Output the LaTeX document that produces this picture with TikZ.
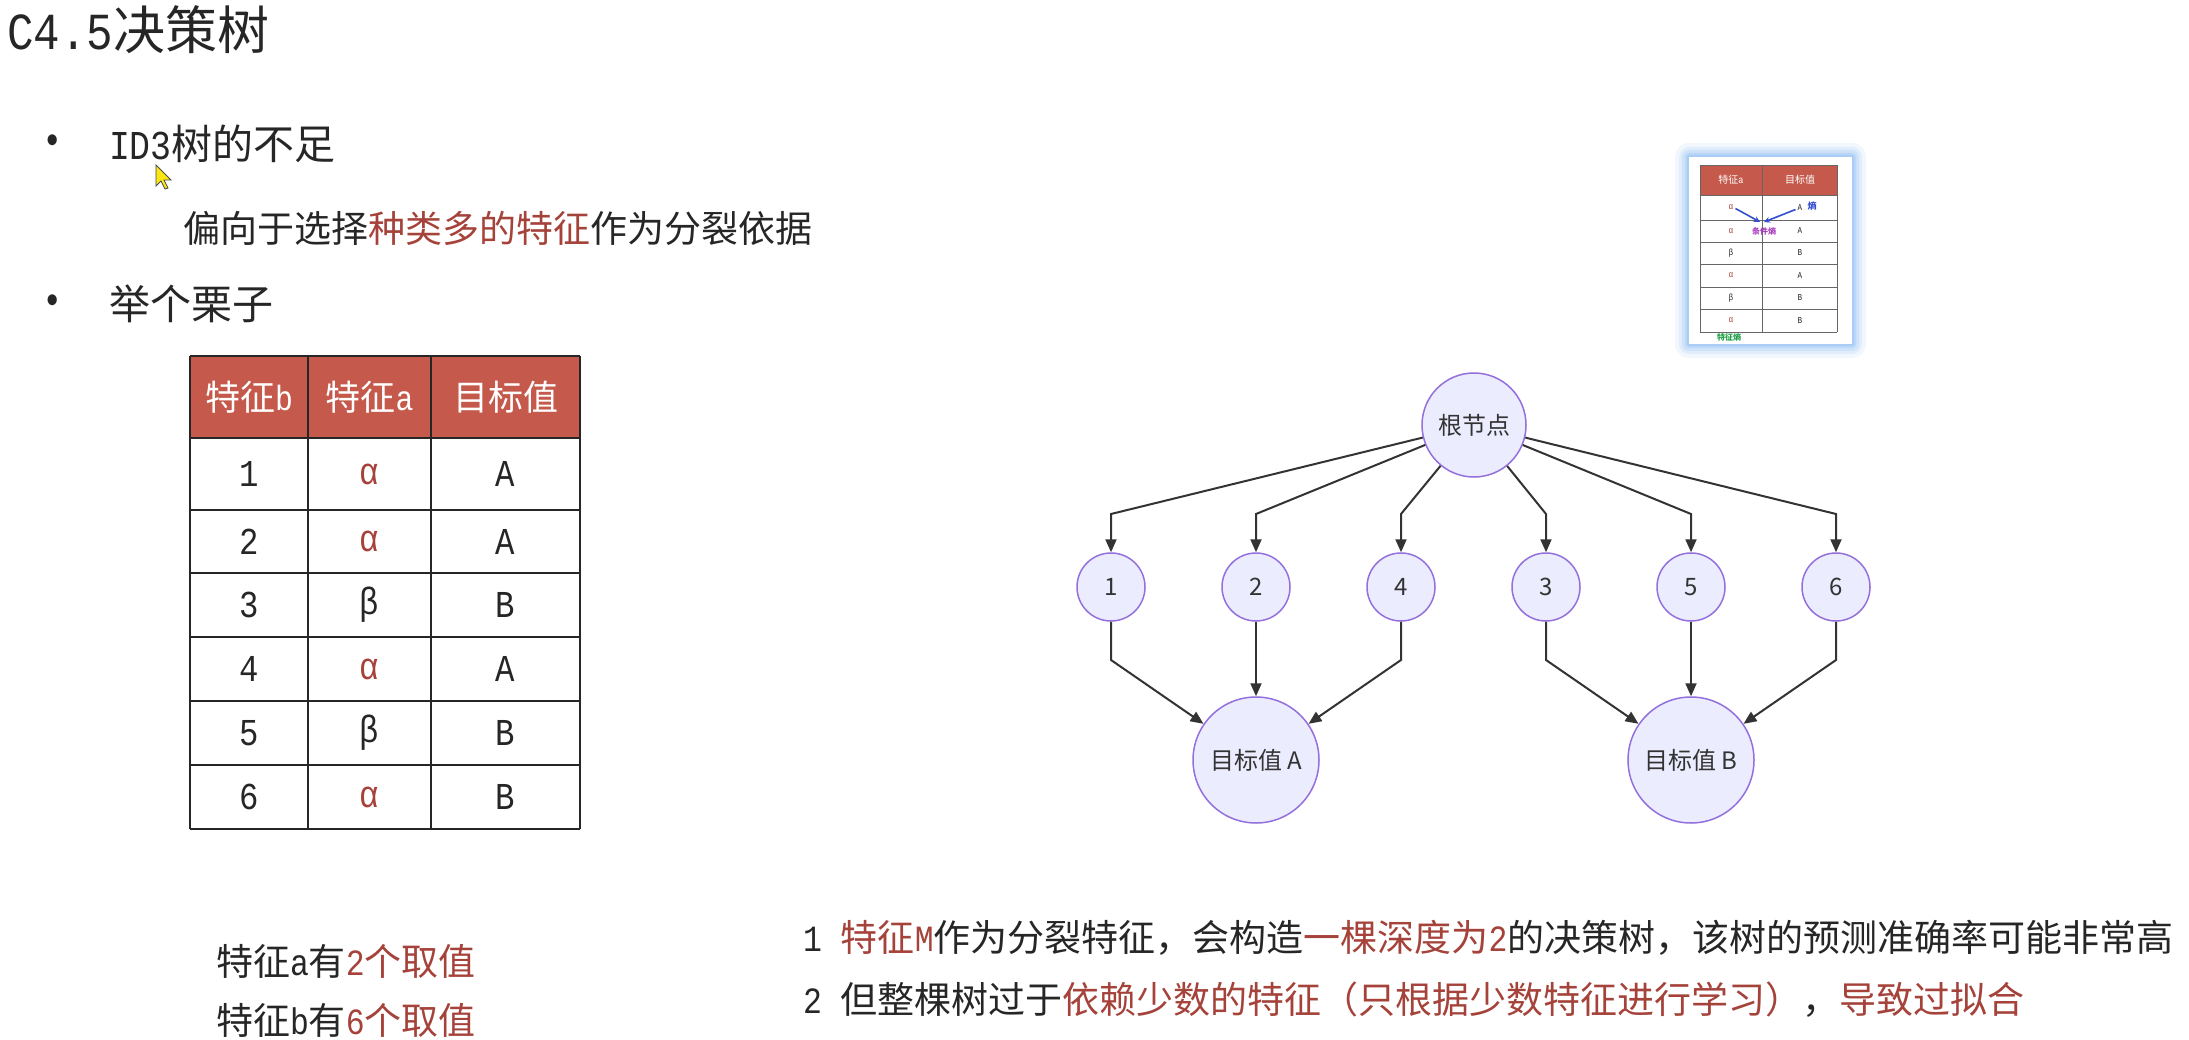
\documentclass[tikz,border=0pt]{standalone}
\usepackage{fontspec}
\setmainfont{Noto Sans CJK SC}
\newfontfamily\monolat[FakeStretch=0.85]{Liberation Mono}
\usetikzlibrary{arrows.meta}
\definecolor{txt}{RGB}{38,38,38}
\definecolor{hl}{RGB}{165,66,58}
\definecolor{hdr}{RGB}{197,90,76}
\definecolor{nfill}{RGB}{236,236,255}
\definecolor{nline}{RGB}{147,112,219}
\definecolor{eline}{RGB}{51,51,51}
\definecolor{arrblue}{RGB}{52,78,210}
\definecolor{glowc}{RGB}{150,195,245}
\definecolor{lblpurple}{RGB}{170,60,190}
\definecolor{lblgreen}{RGB}{30,160,70}
\definecolor{cursorc}{RGB}{250,230,20}
\newcommand\fsz[1]{\fontsize{#1}{#1}\selectfont}
\begin{document}
\begin{tikzpicture}[x=1pt,y=-1pt,
  txtnode/.style={inner sep=0pt, outer sep=0pt, text=txt, anchor=west},
  tn/.style={circle, draw=nline, fill=nfill, line width=1.5pt, inner sep=0pt, text=eline, font=\fsz{24}},
  edge/.style={draw=eline, line width=2pt, -{Triangle[length=13pt,width=11pt]}},
  cell/.style={inner sep=0pt, text=txt, font=\monolat\fsz{38}},
  hcell/.style={inner sep=0pt, text=white, font=\fsz{35}},
  tline/.style={draw=black!85, line width=1.6pt},
  mcell/.style={inner sep=0pt, font=\fsz{8}},
  mline/.style={draw=black!60, line width=0.7pt},
  thinarrow/.style={draw=arrblue, line width=1.6pt, -{Stealth[length=6pt,width=6pt]}}
]
\useasboundingbox (0,0) rectangle (2189,1040);
\fill[white] (0,0) rectangle (2189,1040);

% title and bullets
\node[txtnode, font=\fsz{52}] (title) at (7,30) {{\monolat C4.5}决策树};
\node[inner sep=0pt, text=txt, font=\monolat\fsz{40}] (bul1) at (53,144) {•};
\node[txtnode, font=\fsz{41}] (item1) at (109,144) {{\monolat ID3}树的不足};
\node[txtnode, font=\fsz{37}] (sub1) at (183,228) {偏向于选择{\color{hl}种类多的特征}作为分裂依据};
\node[inner sep=0pt, text=txt, font=\monolat\fsz{40}] (bul2) at (53,304) {•};
\node[txtnode, font=\fsz{41}] (item2) at (109,304) {举个栗子};

% cursor
\filldraw[fill=cursorc, draw=black!70, line width=0.8pt] (156,165) -- (156,186) -- (161,181) -- (165,189) -- (168,188) -- (164,180) -- (171,180) -- cycle;

% main table
\fill[hdr] (190,356) rectangle (580,438);
\foreach \yy in {356,438,510,573,637,701,765,829} \draw[tline] (190,\yy) -- (580,\yy);
\foreach \xx in {190,308,431,580} \draw[tline] (\xx,356) -- (\xx,829);
\node[hcell] (h1) at (249,397) {特征{\monolat b}};
\node[hcell] (h2) at (369.5,397) {特征{\monolat a}};
\node[hcell] (h3) at (505.5,397) {目标值};
\foreach \i/\yy/\fa/\fc/\tv in {1/474/hl/α/A, 2/541.5/hl/α/A, 3/605/txt/β/B, 4/669/hl/α/A, 5/733/txt/β/B, 6/797/hl/α/B} {
  \node[cell] (b\i) at (249,\yy) {\i};
  \node[cell, text=\fa] (a\i) at (369.5,\yy) {\fc};
  \node[cell] (t\i) at (505.5,\yy) {\tv};
}

% thumbnail
\foreach \g/\op in {14/0.12,10/0.18,7/0.25,4/0.35,2/0.45}
  \fill[glowc, opacity=\op, rounded corners=\g pt] ({1689-\g},{157-\g}) rectangle ({1852+\g},{344+\g});
\fill[white] (1689,157) rectangle (1852,344);
\fill[hdr] (1700,165) rectangle (1837,195);
\foreach \yy in {165,195,220,242,264,287,309,332} \draw[mline] (1700,\yy) -- (1837,\yy);
\foreach \xx in {1700,1762,1837} \draw[mline] (\xx,165) -- (\xx,332);
\node[mcell, text=white, font=\fsz{10}] (mh1) at (1731,180) {特征{\monolat a}};
\node[mcell, text=white, font=\fsz{10}] (mh2) at (1800,180) {目标值};
\foreach \i/\yy/\fa/\fc/\tv in {1/207.5/hl/α/A, 2/231/hl/α/A, 3/253/txt/β/B, 4/275.5/hl/α/A, 5/298/txt/β/B, 6/320.5/hl/α/B} {
  \node[mcell, text=\fa, font=\monolat\fsz{9}] (ma\i) at (1731,\yy) {\fc};
  \node[mcell, text=txt, font=\monolat\fsz{9}] (mt\i) at (1800,\yy) {\tv};
}
\coordinate (meet) at (1762,222);
\draw[thinarrow] (ma1.east) ++(2,1) -- ([xshift=-2pt]meet);
\draw[thinarrow] (mt1.west) ++(-2,2) -- ([xshift=2pt]meet);
\node[mcell, text=arrblue, font=\fsz{9}\bfseries] (lshang) at (1812,206) {熵};
\node[mcell, text=lblpurple, font=\fsz{8}\bfseries] (lcond) at (1764,231) {条件熵};
\node[mcell, text=lblgreen, font=\fsz{8}\bfseries] (lfeat) at (1729,337) {特征熵};

% tree
\node[tn, minimum size=104pt] (root) at (1474,425) {根节点};
\node[tn, minimum size=68pt] (n1) at (1111,587) {1};
\node[tn, minimum size=68pt] (n2) at (1256,587) {2};
\node[tn, minimum size=68pt] (n4) at (1401,587) {4};
\node[tn, minimum size=68pt] (n3) at (1546,587) {3};
\node[tn, minimum size=68pt] (n5) at (1691,587) {5};
\node[tn, minimum size=68pt] (n6) at (1836,587) {6};
\node[tn, minimum size=126pt] (ta) at (1256,760) {目标值 A};
\node[tn, minimum size=126pt] (tb) at (1691,760) {目标值 B};
\foreach \n/\xx in {n1/1111,n2/1256,n4/1401,n3/1546,n5/1691,n6/1836} {
  \coordinate (u\n) at (\xx,514);
  \coordinate (d\n) at (\xx,660);
}
\foreach \n in {n1,n2,n4,n3,n5,n6} \draw[edge] (root) -- (u\n) -- (\n);
\draw[edge] (n1) -- (dn1) -- (ta);
\draw[edge] (n2) -- (ta);
\draw[edge] (n4) -- (dn4) -- (ta);
\draw[edge] (n3) -- (dn3) -- (tb);
\draw[edge] (n5) -- (tb);
\draw[edge] (n6) -- (dn6) -- (tb);

% bottom text
\node[txtnode, font=\fsz{37}] (fa) at (216,961) {特征{\monolat a}有{\color{hl}{\monolat 2}个取值}};
\node[txtnode, font=\fsz{37}] (fb) at (216,1020) {特征{\monolat b}有{\color{hl}{\monolat 6}个取值}};
\node[txtnode, font=\fsz{37}] (p1) at (803,938) {{\monolat 1 }{\color{hl}特征{\monolat M}}作为分裂特征，会构造{\color{hl}一棵深度为{\monolat 2}}的决策树，该树的预测准确率可能非常高};
\node[txtnode, font=\fsz{37}] (p2) at (803,1000) {{\monolat 2 }但整棵树过于{\color{hl}依赖少数的特征（只根据少数特征进行学习）}，{\color{hl}导致过拟合}};
\end{tikzpicture}
\end{document}
